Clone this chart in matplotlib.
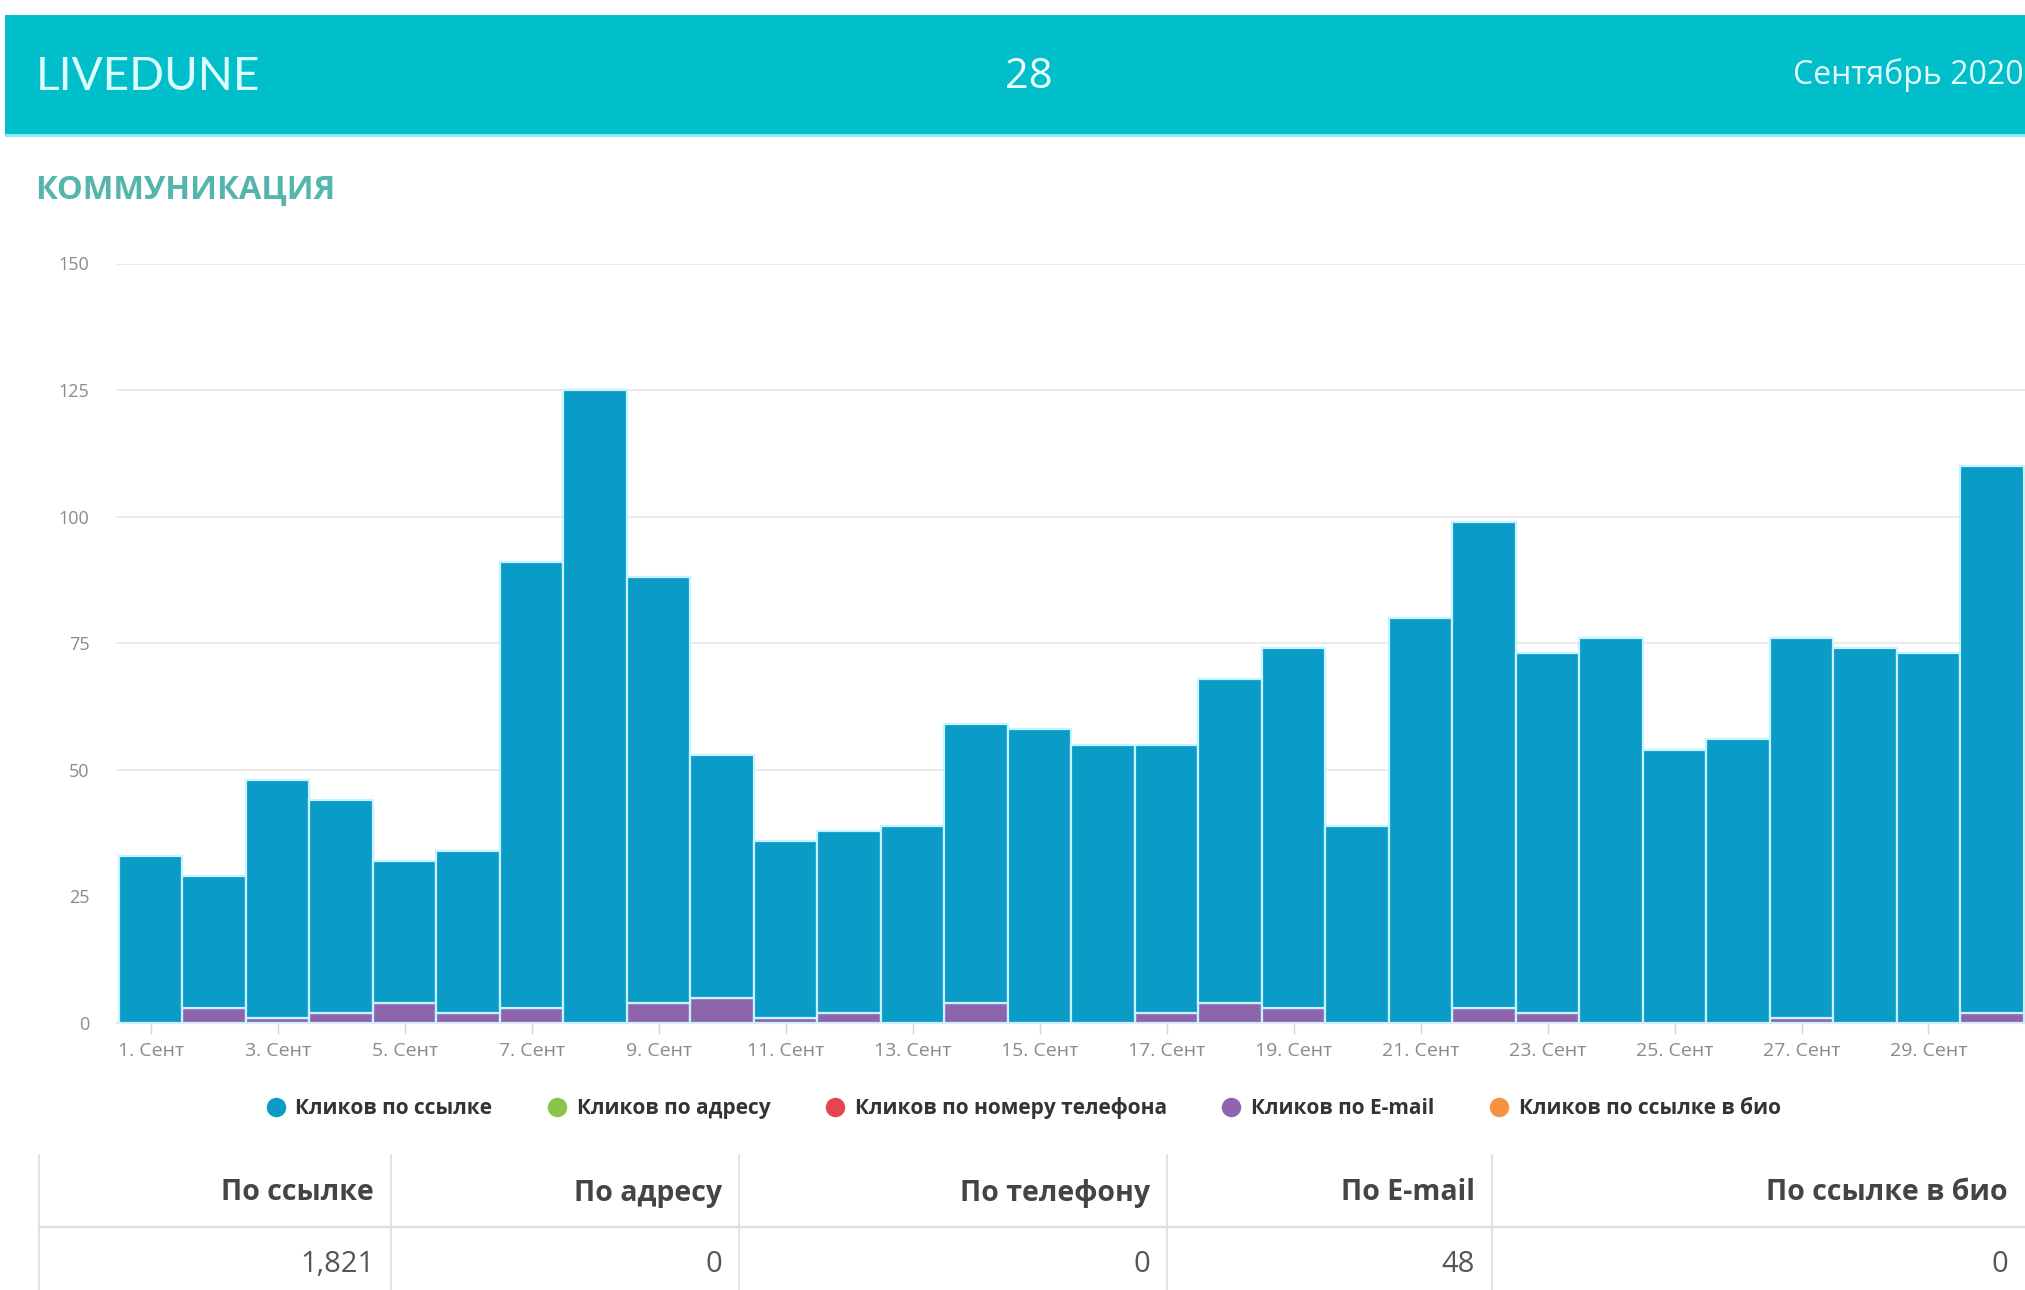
import matplotlib

matplotlib.use("Agg")
import matplotlib.pyplot as plt
from matplotlib.lines import Line2D
from matplotlib.patches import Rectangle
import numpy as np

plt.rcParams["font.family"] = ["Open Sans", "DejaVu Sans"]

# --- data (Sept 2020, clicks per day) ---
days = list(range(1, 31))
day_labels = [f"{d}. Сент" for d in days]
link_clicks = [33, 26, 47, 42, 28, 32, 88, 125, 84, 48, 35, 36, 39, 55, 58,
               55, 53, 64, 71, 39, 80, 96, 71, 76, 54, 56, 75, 74, 73, 108]
email_clicks = [0, 3, 1, 2, 4, 2, 3, 0, 4, 5, 1, 2, 0, 4, 0,
                0, 2, 4, 3, 0, 0, 3, 2, 0, 0, 0, 1, 0, 0, 2]
address_clicks = [0] * 30
phone_clicks = [0] * 30
bio_clicks = [0] * 30

series_names = ["Кликов по ссылке", "Кликов по адресу", "Кликов по номеру телефона",
                "Кликов по E-mail", "Кликов по ссылке в био"]
series_colors = ["#0a9bc7", "#8bc34a", "#e84352", "#8e64ad", "#f59342"]
table_headers = ["По ссылке", "По адресу", "По телефону", "По E-mail", "По ссылке в био"]

W, H = 2025, 1290


def fx(x):
    return x / W


def fy(y):
    return 1 - y / H


fig = plt.figure(figsize=(W / 100, H / 100), dpi=100)
fig.patch.set_facecolor("white")

# header band
fig.patches.append(Rectangle((fx(5), fy(135)), fx(W) - fx(5), fy(15) - fy(135),
                             transform=fig.transFigure, facecolor="#00bfca",
                             edgecolor="none", zorder=0))
fig.patches.append(Rectangle((fx(5), fy(137)), fx(W) - fx(5), fy(134) - fy(137),
                             transform=fig.transFigure, facecolor="#8fe9ee",
                             edgecolor="none", zorder=0))
fig.text(fx(36), fy(77), "LIVEDUNE", fontsize=33, color="#dcfcff", weight="normal",
         family=["Lato", "DejaVu Sans"], va="center", ha="left")
fig.text(fx(1029), fy(77), "28", fontsize=30, color="#effeff", va="center", ha="center")
fig.text(fx(2024), fy(75), "Сентябрь 2020", fontsize=23, color="#e3fbfd",
         va="center", ha="right")

fig.text(fx(35), fy(190), "КОММУНИКАЦИЯ", fontsize=23.5, color="#55b5ac",
         weight="bold", va="center", ha="left")

# chart
ax = fig.add_axes([fx(116), fy(1023), fx(W) - fx(116), fy(263.5) - fy(1023)])
x = np.arange(len(days))
ax.bar(x, email_clicks, width=1.0, color=series_colors[3], edgecolor="#c6f3ff",
       linewidth=1.6, zorder=3)
ax.bar(x, link_clicks, width=1.0, bottom=email_clicks, color=series_colors[0],
       edgecolor="#c6f3ff", linewidth=1.6, zorder=3)

ax.set_xlim(-0.547, 29.52)
ax.set_ylim(0, 150)
ax.set_yticks(np.arange(0, 151, 25))
ax.yaxis.grid(True, color="#e8e8e8", linewidth=1.2)
ax.set_axisbelow(True)
for s in ["top", "right", "left"]:
    ax.spines[s].set_visible(False)
ax.spines["bottom"].set_color("#e3e9f3")
ax.tick_params(axis="y", length=0, pad=19, labelsize=13, labelcolor="#8a8a8a")
ax.set_xticks(x[::2])
ax.set_xticklabels(day_labels[::2])
ax.tick_params(axis="x", length=8, width=1, color="#ccd6eb", pad=6,
               labelsize=14, labelcolor="#8a8a8a")

# legend
handles = [Line2D([], [], marker="o", linestyle="none", markersize=14,
                  markerfacecolor=c, markeredgecolor="none") for c in series_colors]
fig.legend(handles, series_names, loc="center", bbox_to_anchor=(fx(1023), fy(1108)),
           ncol=5, frameon=False, handletextpad=0.45, columnspacing=2.6,
           handlelength=1.0, prop={"weight": "bold", "size": 15}, labelcolor="#333333")

# totals table
totals = [sum(link_clicks), sum(address_clicks), sum(phone_clicks),
          sum(email_clicks), sum(bio_clicks)]
col_edges = [39, 391, 739, 1167, 1492, 2025]
line_color = "#dddddd"
for xe in col_edges[:-1]:
    fig.add_artist(Line2D([fx(xe), fx(xe)], [fy(1155), fy(1290)],
                          transform=fig.transFigure, color=line_color, linewidth=1.2))
fig.add_artist(Line2D([fx(39), fx(W)], [fy(1227), fy(1227)],
                      transform=fig.transFigure, color=line_color, linewidth=1.6))
for i, (hdr, val) in enumerate(zip(table_headers, totals)):
    xr = col_edges[i + 1] - 17
    fig.text(fx(xr), fy(1193), hdr, fontsize=20.5, weight="bold", color="#444444",
             ha="right", va="center")
    fig.text(fx(xr), fy(1264), f"{val:,}", fontsize=21, color="#555555",
             ha="right", va="center")

fig.savefig("out.png", dpi=100)
